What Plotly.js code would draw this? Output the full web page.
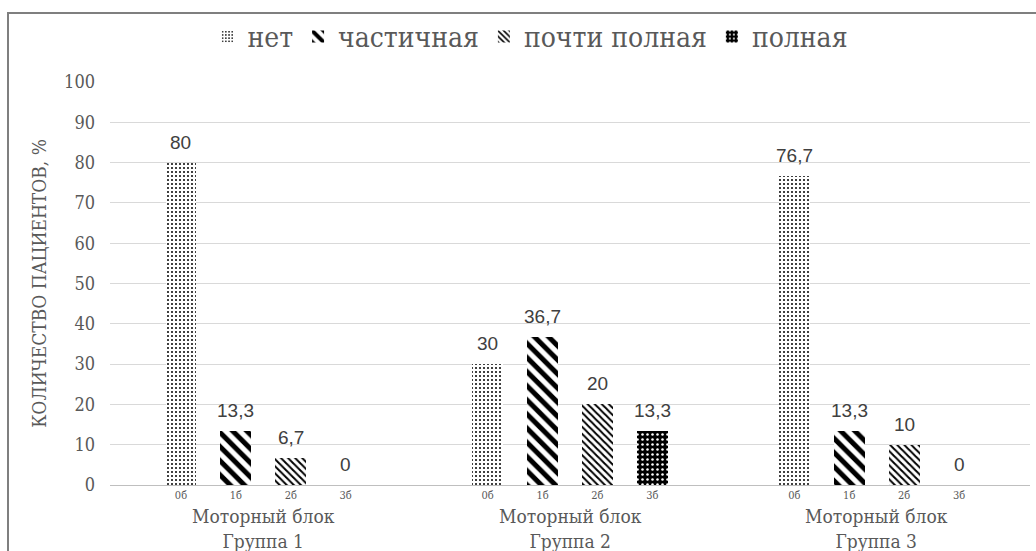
<!DOCTYPE html>
<html>
<head>
<meta charset="utf-8">
<script src="https://cdn.plot.ly/plotly-3.0.1.min.js"></script>
<style>
  html, body { margin: 0; padding: 0; background: #ffffff; }
  #wrap { position: relative; width: 1036px; height: 551px; overflow: hidden; }
  #chart { position: absolute; left: 0; top: 0; width: 1036px; height: 551px; }
  #frame { position: absolute; left: 7px; top: 12px; width: 1040px; height: 560px;
           border-top: 2px solid #7f7f7f; border-left: 2px solid #7f7f7f; pointer-events: none; }
</style>
</head>
<body>
<div id="wrap">
  <div id="chart"></div>
  <div id="frame"></div>
</div>
<script>
// Groups on the x axis
const blockLabel = 'Моторный блок';
const groupLabels = ['Группа 1', 'Группа 2', 'Группа 3'];
// Score label shown under each bar
const scoreLabels = ['0б', '1б', '2б', '3б'];
// Series (share of patients, %)
const seriesNames = ['нет', 'частичная', 'почти полная', 'полная'];
const valsNone = [80, 30, 76.7];
const valsPartial = [13.3, 36.7, 13.3];
const valsAlmost = [6.7, 20, 10];
const valsFull = [0, 13.3, 0];
// Y axis ticks
const yTicks = [0, 10, 20, 30, 40, 50, 60, 70, 80, 90, 100];

const seriesValues = [valsNone, valsPartial, valsAlmost, valsFull];

const SERIF = 'DejaVu Serif Condensed';
const SANS = 'Liberation Sans';

// Bar geometry in x-axis units (one unit per group)
const barWidth = 0.101;
const barStep = 0.179;
const barCenter = k => (k - (seriesValues.length - 1) / 2) * barStep;

const patterns = [
  { shape: '.', fgcolor: '#000000', bgcolor: '#ffffff', size: 4, solidity: 0.2, fillmode: 'replace' },
  { shape: '\\', fgcolor: '#000000', bgcolor: '#ffffff', size: 10, solidity: 0.5, fillmode: 'replace' },
  { shape: '\\', fgcolor: '#000000', bgcolor: '#ffffff', size: 5, solidity: 0.4, fillmode: 'replace' },
  { shape: '.', fgcolor: '#ffffff', bgcolor: '#000000', size: 5, solidity: 0.2, fillmode: 'replace' }
];

const groupIdx = groupLabels.map((_, i) => i);

const traces = seriesValues.map((vals, k) => ({
  type: 'bar',
  name: seriesNames[k],
  x: groupIdx,
  y: vals,
  width: barWidth,
  offset: barCenter(k) - barWidth / 2,
  marker: { color: patterns[k].bgcolor, line: { width: 0 }, pattern: patterns[k] },
  hoverinfo: 'skip'
}));

// Tick positions for the score labels under each bar
const subTickVals = [];
const subTickText = [];
groupIdx.forEach(g => {
  scoreLabels.forEach((s, k) => {
    subTickVals.push(g + barCenter(k));
    subTickText.push(s);
  });
});

const fmt = v => String(v).replace('.', ',');

const annotations = [];
// Value labels above bars
seriesValues.forEach((vals, k) => {
  vals.forEach((v, g) => {
    annotations.push({
      x: g + barCenter(k), y: v, xref: 'x', yref: 'y',
      text: fmt(v), showarrow: false, yanchor: 'bottom', yshift: 8,
      font: { family: SANS, size: 19, color: '#404040' }
    });
  });
});
// Group labels below the axis
groupIdx.forEach(g => {
  annotations.push({
    x: g, y: 0, xref: 'x', yref: 'paper',
    text: blockLabel + '<br>' + groupLabels[g], showarrow: false,
    yanchor: 'middle', yshift: -43,
    font: { family: SERIF, size: 19, color: '#595959' }
  });
});

const layout = {
  width: 1036,
  height: 551,
  margin: { l: 110, r: 6, t: 82, b: 66 },
  paper_bgcolor: '#ffffff',
  plot_bgcolor: '#ffffff',
  font: { family: SERIF, color: '#595959' },
  showlegend: true,
  legend: {
    orientation: 'h',
    x: 0.457, xanchor: 'center',
    y: 1.112, yanchor: 'middle',
    font: { family: SERIF, size: 28, color: '#595959' },
    itemwidth: 30,
    traceorder: 'normal'
  },
  xaxis: {
    type: 'linear',
    range: [-0.5, groupLabels.length - 0.5],
    tickmode: 'array',
    tickvals: subTickVals,
    ticktext: subTickText,
    ticks: '',
    showgrid: false,
    zeroline: false,
    showline: true,
    linecolor: '#bfbfbf',
    linewidth: 1,
    tickfont: { family: SERIF, size: 11, color: '#595959' },
    fixedrange: true
  },
  yaxis: {
    range: [0, 100],
    tickmode: 'array',
    tickvals: yTicks,
    ticks: '',
    showgrid: true,
    gridcolor: '#d9d9d9',
    gridwidth: 1,
    zeroline: false,
    showline: false,
    ticklabelstandoff: 14,
    tickfont: { family: SERIF, size: 18, color: '#595959' },
    title: {
      text: 'КОЛИЧЕСТВО ПАЦИЕНТОВ, %',
      font: { family: SERIF, size: 19, color: '#595959' },
      standoff: 12
    },
    fixedrange: true
  },
  annotations: annotations,
  bargap: 0,
  barmode: 'overlay'
};

Plotly.newPlot('chart', traces, layout, { displayModeBar: false, staticPlot: true });
</script>
</body>
</html>
